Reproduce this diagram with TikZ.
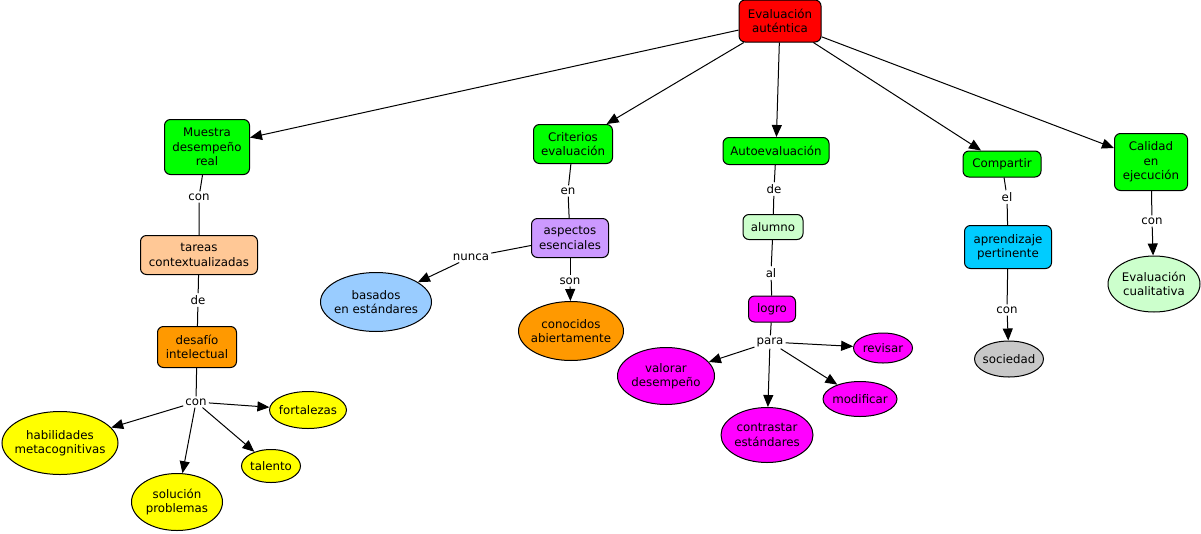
\documentclass[tikz,border=0pt]{standalone}
\usepackage{fontspec}
\setmainfont{DejaVu Sans}
\usetikzlibrary{arrows.meta,shapes.geometric}
\definecolor{cgreen}{RGB}{0,255,0}
\definecolor{cred}{RGB}{255,0,0}
\definecolor{cpeach}{RGB}{255,200,150}
\definecolor{corange}{RGB}{255,153,0}
\definecolor{cyellow}{RGB}{255,255,0}
\definecolor{cblue}{RGB}{153,204,255}
\definecolor{cpurple}{RGB}{204,153,255}
\definecolor{cmagenta}{RGB}{255,0,255}
\definecolor{clgreen}{RGB}{204,255,204}
\definecolor{ccyan}{RGB}{0,204,255}
\definecolor{cgray}{RGB}{200,200,200}
\begin{document}
\begin{tikzpicture}[x=1pt,y=-1pt,
  font=\fontsize{11.8}{14.5}\selectfont,
  concept/.style={draw=black, line width=1pt, rounded corners=6pt, align=center, inner sep=1pt},
  oval/.style={ellipse, draw=black, line width=1pt, inner sep=0pt},
  otext/.style={align=center, inner sep=0pt},
  lnk/.style={inner sep=2pt, fill=white},
  conn/.style={line width=1pt},
  arr/.style={conn, -{Triangle[length=12pt,width=10pt]}}
]
\useasboundingbox[fill=white] (0,0) rectangle (1201,533);

% main concepts
\node[concept, fill=cred, minimum width=82pt, minimum height=42pt] (root) at (780,21) {Evaluación\\auténtica};
\node[concept, fill=cgreen, minimum width=85pt, minimum height=55pt] (mue) at (207,147) {Muestra\\desempeño\\real};
\node[concept, fill=cgreen, minimum width=79pt, minimum height=39pt] (cri) at (573,144) {Criterios\\evaluación};
\node[concept, fill=cgreen, minimum width=106pt, minimum height=27pt] (aut) at (776,151) {Autoevaluación};
\node[concept, fill=cgreen, minimum width=78pt, minimum height=26pt] (com) at (1002,164) {Compartir};
\node[concept, fill=cgreen, minimum width=73pt, minimum height=57pt] (cal) at (1151,162) {Calidad\\en\\ejecución};

% left branch
\node[concept, fill=cpeach, minimum width=117pt, minimum height=39pt] (tar) at (199,255) {tareas\\contextualizadas};
\node[concept, fill=corange, minimum width=79pt, minimum height=41pt] (des) at (197,347) {desafío\\intelectual};
\node[oval, fill=cyellow, minimum width=77pt, minimum height=37pt] (fort) at (308,410) {};
\node[otext] at (fort) {fortalezas};
\node[oval, fill=cyellow, minimum width=116pt, minimum height=63pt] (hab) at (60,443) {};
\node[otext] at (hab) {habilidades\\metacognitivas};
\node[oval, fill=cyellow, minimum width=91pt, minimum height=57pt] (sol) at (177,502) {};
\node[otext] at (sol) {solución\\problemas};
\node[oval, fill=cyellow, minimum width=59pt, minimum height=33pt] (tal) at (271,466) {};
\node[otext] at (tal) {talento};

% criterios branch
\node[concept, fill=cpurple, minimum width=77pt, minimum height=39pt] (asp) at (570,238) {aspectos\\esenciales};
\node[oval, fill=cblue, minimum width=111pt, minimum height=59pt] (bas) at (376,302) {};
\node[otext] at (bas) {basados\\en estándares};
\node[oval, fill=corange, minimum width=105pt, minimum height=59pt] (cono) at (571,331) {};
\node[otext] at (cono) {conocidos\\abiertamente};

% autoevaluacion branch
\node[concept, fill=clgreen, minimum width=60pt, minimum height=25pt] (alu) at (773,227) {alumno};
\node[concept, fill=cmagenta, minimum width=47pt, minimum height=26pt] (log) at (772,309) {logro};
\node[oval, fill=cmagenta, minimum width=59pt, minimum height=30pt] (rev) at (883,348) {};
\node[otext] at (rev) {revisar};
\node[oval, fill=cmagenta, minimum width=97pt, minimum height=57pt] (val) at (666,376) {};
\node[otext] at (val) {valorar\\desempeño};
\node[oval, fill=cmagenta, minimum width=74pt, minimum height=35pt] (mod) at (860,399) {};
\node[otext] at (mod) {modificar};
\node[oval, fill=cmagenta, minimum width=92pt, minimum height=55pt] (cont) at (767,435) {};
\node[otext] at (cont) {contrastar\\estándares};

% compartir branch
\node[concept, fill=ccyan, minimum width=87pt, minimum height=43pt] (apr) at (1008,247) {aprendizaje\\pertinente};
\node[oval, fill=cgray, minimum width=69pt, minimum height=36pt] (soc) at (1009,359) {};
\node[otext] at (soc) {sociedad};

% calidad branch
\node[oval, fill=clgreen, minimum width=92pt, minimum height=56pt] (evc) at (1154,284) {};
\node[otext] at (evc) {Evaluación\\cualitativa};

% linking phrases
\node[lnk] (l1) at (199,197) {con};
\node[lnk] (l2) at (198,300) {de};
\node[lnk] (l3) at (196,402) {con};
\node[lnk] (l4) at (568,191) {en};
\node[lnk] (l5) at (471,257) {nunca};
\node[lnk] (l6) at (570,281) {son};
\node[lnk] (l7) at (774,189) {de};
\node[lnk] (l8) at (771,273) {al};
\node[lnk] (l9) at (770,342) {para};
\node[lnk] (l10) at (1007,197) {el};
\node[lnk] (l11) at (1007,310) {con};
\node[lnk] (l12) at (1152,221) {con};

% connectors from root
\draw[arr] (root) -- (mue);
\draw[arr] (root) -- (cri);
\draw[arr] (root) -- (aut);
\draw[arr] (root) -- (com);
\draw[arr] (root) -- (cal);

% left branch
\draw[conn] (mue) -- (l1) -- (tar);
\draw[conn] (tar) -- (l2) -- (des);
\draw[conn] (des) -- (l3);
\draw[arr] (l3) -- (hab);
\draw[arr] (l3) -- (sol);
\draw[arr] (l3) -- (tal);
\draw[arr] (l3) -- (fort);

% criterios
\draw[conn] (cri) -- (l4) -- (asp);
\draw[conn] (asp) -- (l5);
\draw[arr] (l5) -- (bas);
\draw[conn] (asp) -- (l6);
\draw[arr] (l6) -- (cono);

% autoevaluacion
\draw[conn] (aut) -- (l7) -- (alu);
\draw[conn] (alu) -- (l8) -- (log);
\draw[conn] (log) -- (l9);
\draw[arr] (l9) -- (val);
\draw[arr] (l9) -- (cont);
\draw[arr] (l9) -- (mod);
\draw[arr] (l9) -- (rev);

% compartir
\draw[conn] (com) -- (l10) -- (apr);
\draw[conn] (apr) -- (l11);
\draw[arr] (l11) -- (soc);

% calidad
\draw[conn] (cal) -- (l12);
\draw[arr] (l12) -- (evc);
\end{tikzpicture}
\end{document}
